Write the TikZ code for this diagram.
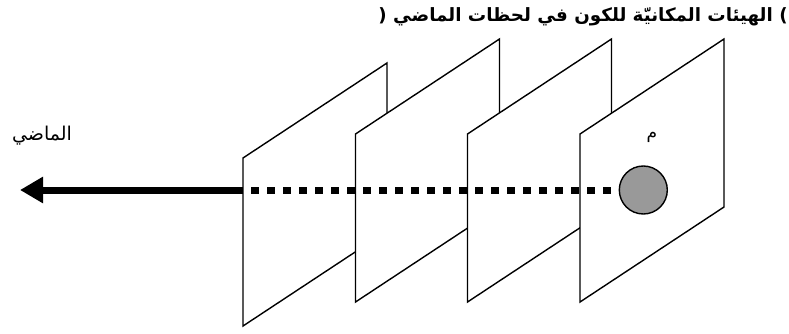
\documentclass[tikz,border=0pt]{standalone}
\usepackage{fontspec}
\newfontfamily\arabicfont[Script=Arabic]{DejaVu Sans}
\TeXXeTstate=1
\usetikzlibrary{arrows.meta}
\tikzset{
  plane/.style={draw=black, fill=white, line width=1.4pt, line join=miter},
  pastarrow/.style={line width=7pt, -{Triangle[length=23pt,width=25pt]}},
  dotline/.style={line width=7pt, dash pattern=on 8pt off 8pt},
  mass/.style={circle, draw=black, line width=1.4pt, fill=black!40, minimum size=48pt, inner sep=0pt},
  lbl/.style={inner sep=0pt, font=\arabicfont}
}
\newcommand\drawplane[3]{%
  \filldraw[plane] (#2,#3) coordinate (#1tl) -- ++(0,168) coordinate (#1bl)
    -- ++(144,-95) coordinate (#1br) -- ++(0,-168) coordinate (#1tr) -- cycle;}
\begin{document}
\begin{tikzpicture}[x=1pt,y=-1pt]
\useasboundingbox (0,0) rectangle (789,334);
\drawplane{p1}{243}{158}
\drawplane{p2}{355.5}{134}
\drawplane{p3}{467.5}{134}
\drawplane{p4}{580}{134}
\node[mass] (m) at (643.3,190) {};
\coordinate (start) at (243,190);
\coordinate (dotstart) at (251,190);
\coordinate (tip) at (20,190);
\draw[dotline] (dotstart) -- (m.west);
\draw[pastarrow] (start) -- (tip);
\node[lbl, font=\arabicfont\fontsize{17}{20}\selectfont] (mlabel) at (652,137) {\beginR م\endR};
\node[lbl, font=\arabicfont\fontsize{19}{22}\selectfont] (past) at (42,136) {\beginR الماضي\endR};
\node[lbl, font=\arabicfont\bfseries\fontsize{18.3}{21}\selectfont] (title) at (583,17) {\beginR) الهيئات المكانيّة للكون في لحظات الماضي (\endR};
\end{tikzpicture}
\end{document}
